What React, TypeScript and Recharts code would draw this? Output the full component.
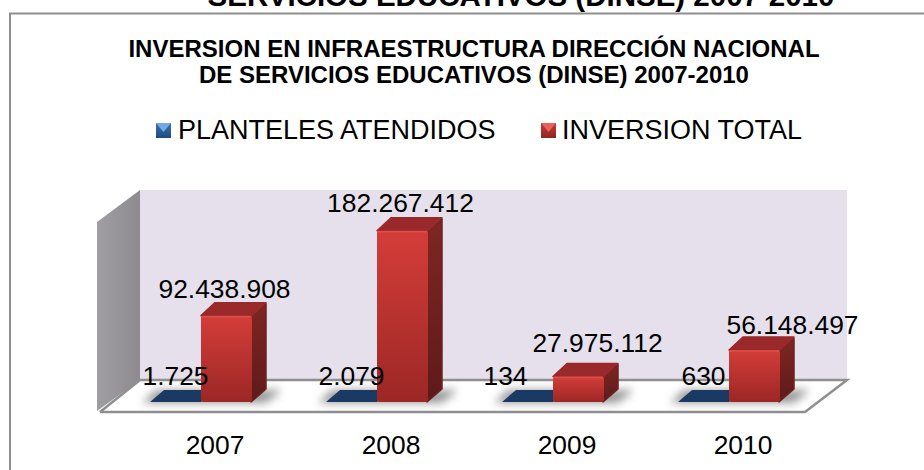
import { Bar, BarChart, LabelList, Legend, XAxis, YAxis } from "recharts";

const years = ["2007", "2008", "2009", "2010"];
const planteles = [1725, 2079, 134, 630];
const inversion = [92438908, 182267412, 27975112, 56148497];

const rows = years.map((year, i) => ({ year, planteles: planteles[i], inversion: inversion[i] }));

const FONT = "'Liberation Sans', Arial, sans-serif";
const DEPTH_X = 14;
const DEPTH_Y = 13;
const BASE_DROP = -1;

// hand placed labels in the original, so they need a nudge per year
const blueShift = [0, 0, -22, 0];
const blueLift = [18, 18, 18, 18];
const redShift = [-2, -2, 19, 38];
const redLift = [18, 19, 25, 16];

function money(v: number) {
  return v.toString().replace(/\B(?=(\d{3})+(?!\d))/g, ".");
}

function BlueBar(props: any) {
  const { x, y, width, height } = props;
  const base = y + height + BASE_DROP;
  return (
    <g>
      <polygon
        points={`${x - 8},${base + 1} ${x + width * 2 + 14},${base + 1} ${x + width * 2 + 30},${base - 12} ${x + 6},${base - 12}`}
        fill="#555"
        opacity={0.6}
        filter="url(#floorShadow)"
      />
      <polygon
        points={`${x},${base} ${x + width},${base} ${x + width + DEPTH_X},${base - DEPTH_Y + 1} ${x + DEPTH_X},${base - DEPTH_Y + 1}`}
        fill="#1b3a63"
      />
    </g>
  );
}

function RedBar(props: any) {
  const { x, y, width, height } = props;
  const base = y + height + BASE_DROP;
  return (
    <g>
      <polygon
        points={`${x + width - 1},${y + 1} ${x + width + DEPTH_X},${y - DEPTH_Y + 1} ${x + width + DEPTH_X},${base - DEPTH_Y} ${x + width - 1},${base}`}
        fill="url(#redSide)"
        stroke="#6d201f"
        strokeLinejoin="round"
        strokeWidth={1.5}
      />
      <polygon
        points={`${x},${y} ${x + DEPTH_X},${y - DEPTH_Y} ${x + width + DEPTH_X},${y - DEPTH_Y} ${x + width},${y}`}
        fill="#99292a"
        stroke="#99292a"
        strokeLinejoin="round"
        strokeWidth={1.5}
      />
      <rect x={x} y={y} width={width} height={height + BASE_DROP} rx={2} fill="url(#redFront)" />
      <line x1={x + 1} x2={x + width - 1} y1={y + 1} y2={y + 1} stroke="#dc4f4a" strokeWidth={1.5} />
    </g>
  );
}

function YearTick(props: any) {
  return (
    <text x={props.x + 14} y={454} textAnchor="middle" fontFamily={FONT} fontSize={26.4} fill="#000">
      {props.payload.value}
    </text>
  );
}

function valueLabel(shift: number[], lift: number[]) {
  return (props: any) => {
    const { x, y, width, value, index } = props;
    return (
      <text
        x={x + width / 2 + shift[index]}
        y={y - lift[index]}
        textAnchor="middle"
        fontFamily={FONT}
        fontSize={26.4}
        fill="#000"
      >
        {money(value)}
      </text>
    );
  };
}

function LegendRow({ payload }: any) {
  const spots = [
    { mark: 156, text: 178 },
    { mark: 541, text: 562 },
  ];
  return (
    <div style={{ position: "relative", height: 30, fontFamily: FONT, fontSize: 27, lineHeight: "30px" }}>
      {(payload || []).map((item: any, i: number) => (
        <div key={item.value}>
          <div
            style={{
              position: "absolute",
              left: spots[i].mark,
              top: 8,
              width: 15,
              height: 15,
              background: i === 0 ? "linear-gradient(#3a73b5, #1f4a80)" : "linear-gradient(#c93a36, #8e2422)",
            }}
          />
          <div
            style={{
              position: "absolute",
              left: spots[i].mark,
              top: 8,
              width: 15,
              height: 15,
              background: i === 0 ? "#74aae2" : "#e8625c",
              clipPath: "polygon(0 0, 100% 0, 50% 60%)",
            }}
          />
          <span style={{ position: "absolute", left: spots[i].text, top: 0, whiteSpace: "nowrap", color: "#000" }}>
            {item.value}
          </span>
        </div>
      ))}
    </div>
  );
}

export default function App() {
  return (
    <div style={{ position: "absolute", left: 0, top: 0, width: 924, height: 470, background: "#fff" }}>
      <BarChart
        width={924}
        height={470}
        data={rows}
        margin={{ top: 214, right: 107, bottom: 37, left: 113 }}
        barSize={51}
        barGap={0}
      >
        <defs>
          <linearGradient id="redFront" x1="0" x2="0" y1="0" y2="1">
            <stop offset="0%" stopColor="#d43d39" />
            <stop offset="100%" stopColor="#9c2725" />
          </linearGradient>
          <linearGradient id="redSide" x1="0" x2="0" y1="0" y2="1">
            <stop offset="0%" stopColor="#7f2624" />
            <stop offset="100%" stopColor="#5e1a19" />
          </linearGradient>
          <linearGradient id="sideWall" x1="0" x2="1" y1="0" y2="0">
            <stop offset="0%" stopColor="#a09ea3" />
            <stop offset="100%" stopColor="#8d8b90" />
          </linearGradient>
          <filter id="floorShadow" x="-20%" y="-80%" width="140%" height="260%">
            <feGaussianBlur stdDeviation="4" />
          </filter>
        </defs>

        {/* page title cut off above the chart frame */}
        <text x={521} y={6} textAnchor="middle" fontFamily={FONT} fontWeight="bold" fontSize={29.5} fill="#000">
          SERVICIOS EDUCATIVOS (DINSE) 2007-2010
        </text>
        <polyline points="10,470 10,13.5 924,13.5" fill="none" stroke="#8e8e8e" strokeWidth={2} />
        <text x={474} y={56.5} textAnchor="middle" fontFamily={FONT} fontWeight="bold" fontSize={24} fill="#000">
          INVERSION EN INFRAESTRUCTURA DIRECCIÓN NACIONAL
        </text>
        <text x={474} y={83} textAnchor="middle" fontFamily={FONT} fontWeight="bold" fontSize={24} fill="#000">
          DE SERVICIOS EDUCATIVOS (DINSE) 2007-2010
        </text>

        {/* 3d room behind the bars */}
        <rect x={140} y={190} width={707} height={190} fill="#e5e0ec" />
        <polygon points="140,190 97,222 97,411 140,380" fill="url(#sideWall)" />
        <polyline
          points="100,412 805,412 847,380 140,380 100,412"
          fill="#fff"
          stroke="#8f8f8f"
          strokeWidth={2.5}
        />

        <XAxis dataKey="year" axisLine={false} tickLine={false} tick={YearTick} interval={0} />
        <YAxis hide domain={[0, 200000000]} />
        <Legend
          verticalAlign="middle"
          itemSorter={null}
          content={LegendRow as any}
          wrapperStyle={{ position: "absolute", left: 0, top: 115, width: 924 }}
        />
        <Bar dataKey="planteles" name="PLANTELES ATENDIDOS" fill="#1b3a63" shape={BlueBar} isAnimationActive={false}>
          <LabelList dataKey="planteles" content={valueLabel(blueShift, blueLift)} />
        </Bar>
        <Bar dataKey="inversion" name="INVERSION TOTAL" fill="#c93a36" shape={RedBar} isAnimationActive={false}>
          <LabelList dataKey="inversion" content={valueLabel(redShift, redLift)} />
        </Bar>
      </BarChart>
    </div>
  );
}
